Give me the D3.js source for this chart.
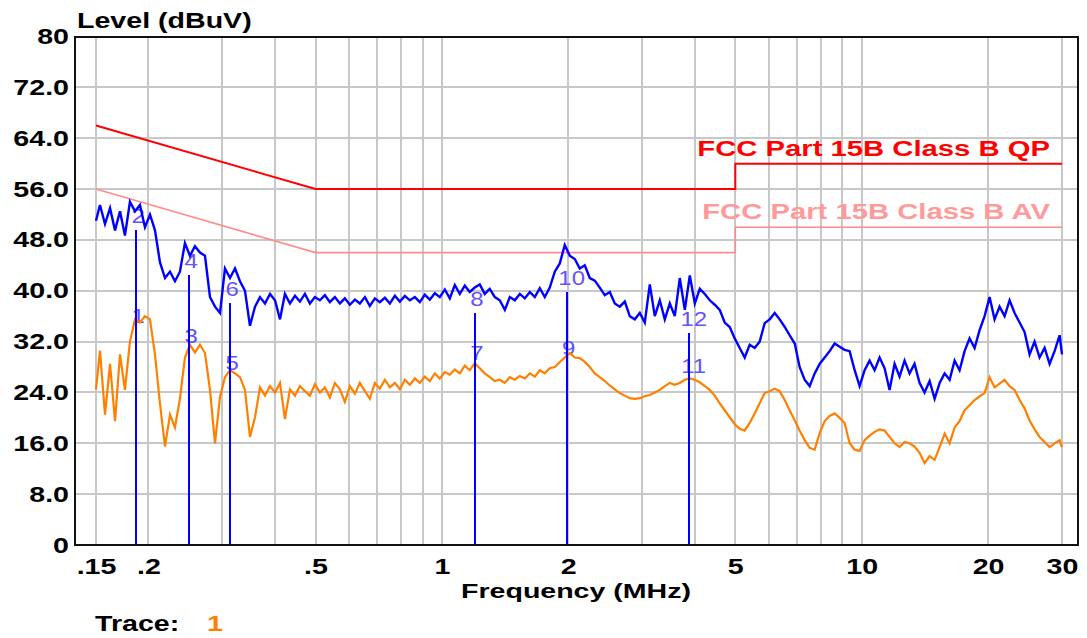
<!DOCTYPE html>
<html>
<head>
<meta charset="utf-8">
<script src="https://cdn.jsdelivr.net/npm/d3@7"></script>
<style>
  html, body { margin: 0; padding: 0; background: #fff; }
  svg { display: block; }
</style>
</head>
<body>
<svg id="chart" width="1087" height="638"></svg>
<script>
// ---------------- DATA ----------------
const yTickVals = [0, 8, 16, 24, 32, 40, 48, 56, 64, 72, 80];
const yTickLabels = ["0", "8.0", "16.0", "24.0", "32.0", "40.0", "48.0", "56.0", "64.0", "72.0", "80"];
const xTickVals = [0.15, 0.2, 0.5, 1, 2, 5, 10, 20, 30];
const xTickLabels = [".15", ".2", ".5", "1", "2", "5", "10", "20", "30"];
const xGridVals = [0.15, 0.2, 0.3, 0.4, 0.5, 0.6, 0.7, 0.8, 0.9, 1, 2, 3, 4, 5, 6, 7, 8, 9, 10, 20, 30];
const yGridVals = [8, 16, 24, 32, 40, 48, 56, 64, 72];

// FCC Part 15B Class B limits
const qpFreq = [0.15, 0.5, 5, 5, 30];
const qpLevel = [66, 56, 56, 60, 60];
const avFreq = [0.15, 0.5, 5, 5, 30];
const avLevel = [56, 46, 46, 50, 50];

// Measured traces (MHz, dBuV)
const freqs = [0.150,
  0.1533,0.1576,0.1620,0.1665,0.1711,0.1758,0.1807,0.1858,0.1909,0.1962,
  0.2017,0.2073,0.2130,0.2190,0.2251,0.2313,0.2377,0.2443,0.2511,0.2581,
  0.2653,0.2727,0.2803,0.2881,0.2961,0.3043,0.3128,0.3215,0.3304,0.3396,
  0.3490,0.3588,0.3687,0.3790,0.3895,0.4004,0.4115,0.4228,0.4346,0.4467,
  0.4590,0.4718,0.4849,0.4983,0.5122,0.5264,0.5410,0.5560,0.5715,0.5873,
  0.6036,0.6206,0.6376,0.6557,0.6735,0.6926,0.7114,0.7315,0.7518,0.7727,
  0.7941,0.8162,0.8388,0.8622,0.8861,0.9107,0.9359,0.9621,0.9886,1.0161,
  1.0443,1.0734,1.1031,1.1339,1.1652,1.1976,1.2308,1.2651,1.3001,1.3369,
  1.3734,1.4124,1.4515,1.4918,1.5333,1.5759,1.6196,1.6646,1.7108,1.7583,
  1.8071,1.8576,1.9092,1.9622,2.0166,2.0727,2.1303,2.1897,2.2506,2.3132,
  2.3774,2.4434,2.5115,2.5814,2.6531,2.7269,2.8028,2.8806,2.9609,3.0431,
  3.1277,3.2147,3.3041,3.3960,3.4905,3.5876,3.6873,3.7899,3.8952,4.0035,
  4.1148,4.2292,4.3460,4.4664,4.5904,4.7175,4.8488,4.9833,5.1218,5.2643,
  5.4099,5.5604,5.7146,5.8734,6.0363,6.2061,6.3761,6.5571,6.7350,6.9264,
  7.1141,7.3121,7.5178,7.727,7.9412,8.162,8.3883,8.622,8.8605,9.106,
  9.359,9.621,9.886,10.161,10.443,10.734,11.031,11.339,11.652,11.976,
  12.308,12.651,13.001,13.363,13.734,14.115,14.515,14.919,15.333,15.759,
  16.196,16.647,17.108,17.583,18.071,18.576,19.092,19.622,20.166,20.727,
  21.303,21.897,22.506,23.132,23.774,24.434,25.115,25.814,26.531,27.269,
  28.028,28.806,29.609,30.0];

const peak = [51,
  53.5,50.5,53,49.5,52.5,48.7,54,52.5,53.5,50,
  52,49.5,44.5,42,43,41.5,43,47.5,45.5,47,
  46,45.5,39,37.5,36.5,43.5,42,43.5,41.5,40,
  34.5,37.5,39,38,39.5,38.5,35.5,39.5,38,39.2,
  38.3,39.5,38,39,38.5,39.3,38.2,39,38,38.8,
  37.8,38.6,38,39,37.6,38.8,38.2,38.9,38,39.2,
  38.3,39.2,38.5,39,38.2,39.4,38.6,39.6,39,40.2,
  38.8,40.9,39.5,40.8,39.8,40.5,41,39.5,40.3,39,
  38.5,37,39,38.5,39.5,38.8,39.8,39,40.4,39,
  40.5,43,44.3,47.2,45.5,45,43.5,44,42,41.6,
  40.5,39.3,39.8,38,37.5,38.3,36,35.5,36.5,35,
  41,36,38.5,35.5,38,36,42,37,42.4,38,
  40.3,39.5,38.5,37.8,37,35,34.3,32.5,31,29.5,
  31.5,31,32,34.9,35.5,36.5,35.5,34.3,33,31.7,
  28,26,25,27,28.5,29.5,30.5,31.7,31.2,30.7,
  30.5,27.5,25,27.5,29,27.5,29.5,27.8,24.4,28.5,
  26.5,29,27,28.5,25.5,24,25.8,23,25.5,27,
  26,29,27.5,30.5,32.5,31,33.8,36,39,35.5,
  37.5,36,38.5,36.5,35,33.5,30,32,29.5,31,
  28.5,30.5,33,30];

const avg = [24.5,
  30.6,20.5,28.5,19.5,30,24.4,32,35.5,35,36,
  35.5,30,22.3,15.5,20.5,18.5,23,29.5,31.5,30.3,
  31.5,30.2,24.4,16,23.3,26.4,27.5,27,26.4,24.4,
  17,20.1,24.8,23.5,25,24,25.5,19.8,24.5,23.5,
  25,24.2,23.5,25.3,24,24.8,23.2,25.5,24.5,22.5,
  25,23.8,25.5,24.2,23,25.5,24.6,26,24.8,25.5,
  24.5,26,25.2,26.2,25.5,26.5,25.8,27,26.2,27.2,
  26.8,27.6,27,28.2,27.5,28.6,27.8,27,26.4,25.8,
  26,25.5,26.4,26,26.6,26.2,27,26.5,27.5,27,
  27.8,28,28.8,29.5,30.2,29.5,29.4,28.8,28,27,
  26.4,25.8,25.1,24.5,23.9,23.5,23.1,23,23.1,23.4,
  23.6,24,24.4,25,25.5,25.2,25.5,26,26.2,26,
  25.6,25,24.4,23.5,22.3,21.2,20.1,19,18.3,18,
  19.2,20.7,22.3,23.9,24.2,24.6,24.2,22.8,21.2,19.6,
  18,16.5,15.3,15,17.6,19.5,20.3,20.7,20,19.2,
  16,15,14.8,16.5,17.2,17.8,18.2,18,17,16,
  15.4,16.2,16,15.5,14.5,12.9,14,13.4,15.4,17.5,
  16,18.5,19.5,21.2,22,22.8,23.4,23.9,26.4,24.8,
  25.4,26,25,24.4,22.8,21.5,19.6,18.2,17,16.2,
  15.4,16,16.5,15.4];

// Markers
const markerNo = [1, 2, 3, 4, 5, 6, 7, 8, 9, 10, 11, 12];
const markerFreq = [0.187, 0.187, 0.250, 0.250, 0.313, 0.313, 1.198, 1.198, 1.983, 1.983, 3.873, 3.873];
const markerLevel = [33.8, 49.5, 30.7, 42.5, 26.4, 38.0, 28.0, 36.5, 28.8, 39.8, 25.9, 33.3];

const qpLabel = "FCC Part 15B Class B QP";
const avLabel = "FCC Part 15B Class B AV";
const yTitle = "Level (dBuV)";
const xTitle = "Frequency (MHz)";
const traceLabel = "Trace:";
const traceNo = "1";

// ---------------- LAYOUT ----------------
const FONT = "'Liberation Sans', Arial, Helvetica, sans-serif";
const SX = 1.3; // horizontal stretch of the original raster text
const X0 = 75, X1 = 1078, Y0 = 36.5, Y1 = 545;

const svg = d3.select("#chart");
const x = d3.scaleLog().domain([0.15, 30]).range([96, 1062]);
const y = d3.scaleLinear().domain([0, 80]).range([545, 36.5]);

function sText(g, px, py, str, opts) {
  const o = Object.assign({anchor: "start", size: 22, weight: "bold", fill: "#000", sx: SX}, opts || {});
  return g.append("text")
    .attr("transform", `translate(${px},${py}) scale(${o.sx},1)`)
    .attr("text-anchor", o.anchor)
    .attr("font-family", FONT)
    .attr("font-size", o.size)
    .attr("font-weight", o.weight)
    .attr("fill", o.fill)
    .text(str);
}

// Grid
const grid = svg.append("g").attr("stroke", "#c8c8c8").attr("stroke-width", 2).attr("shape-rendering", "crispEdges");
grid.selectAll("line.v").data(xGridVals).join("line").attr("class", "v")
  .attr("x1", d => Math.round(x(d))).attr("x2", d => Math.round(x(d)))
  .attr("y1", Y0).attr("y2", Y1);
grid.selectAll("line.h").data(yGridVals).join("line").attr("class", "h")
  .attr("x1", X0).attr("x2", X1)
  .attr("y1", d => Math.round(y(d))).attr("y2", d => Math.round(y(d)));

// Limit lines
const lineGen = d3.line().x(d => x(d[0])).y(d => y(d[1]));
svg.append("path").datum(qpFreq.map((f, i) => [f, qpLevel[i]]))
  .attr("d", lineGen).attr("fill", "none").attr("stroke", "#ff0000").attr("stroke-width", 2);
svg.append("path").datum(avFreq.map((f, i) => [f, avLevel[i]]))
  .attr("d", lineGen).attr("fill", "none").attr("stroke", "#ff8c8c").attr("stroke-width", 1.6);

sText(svg, 1050, 156, qpLabel, {anchor: "end", fill: "#ff0000", sx: 1.33});
sText(svg, 1050, 219, avLabel, {anchor: "end", fill: "#ff9a9a", sx: 1.33});

// Marker labels (under traces)
const mk = markerNo.map((n, i) => ({n, f: markerFreq[i], v: markerLevel[i]}));
const mkLabels = svg.append("g");
mk.forEach(m => {
  sText(mkLabels, x(m.f) + (m.n >= 10 ? 5 : 2), y(m.v) - 7, String(m.n),
    {anchor: "middle", size: 20, weight: "normal", fill: "#6452ff", sx: 1.2});
});

// Traces
const traceGen = d3.line().x(d => x(d[0])).y(d => y(d[1]));
svg.append("path").datum(freqs.map((f, i) => [f, avg[i]]))
  .attr("d", traceGen).attr("fill", "none").attr("stroke", "#ff8000").attr("stroke-width", 2.2)
  .attr("stroke-linejoin", "miter");
svg.append("path").datum(freqs.map((f, i) => [f, peak[i]]))
  .attr("d", traceGen).attr("fill", "none").attr("stroke", "#0000ff").attr("stroke-width", 2.4)
  .attr("stroke-linejoin", "miter");

// Marker lines
svg.append("g").selectAll("line").data(mk).join("line")
  .attr("x1", d => Math.round(x(d.f))).attr("x2", d => Math.round(x(d.f)))
  .attr("y1", y(0)).attr("y2", d => y(d.v))
  .attr("stroke", "#0000ff").attr("stroke-width", 2).attr("shape-rendering", "crispEdges");

// Frame
svg.append("rect").attr("x", X0).attr("y", Y0).attr("width", X1 - X0).attr("height", Y1 - Y0)
  .attr("fill", "none").attr("stroke", "#111").attr("stroke-width", 2).attr("shape-rendering", "crispEdges");

// Axes
const xAxis = d3.axisBottom(x).tickValues(xTickVals)
  .tickFormat(d => xTickLabels[xTickVals.indexOf(d)]).tickSize(0);
const gx = svg.append("g").attr("transform", `translate(0,${Y1})`).call(xAxis);
gx.select(".domain").remove();
gx.attr("font-family", FONT).attr("font-size", 22).attr("font-weight", "bold");
gx.selectAll("text").attr("y", 29).attr("dy", null).attr("fill", "#000")
  .attr("transform", `scale(${SX},1)`);

const yAxis = d3.axisLeft(y).tickValues(yTickVals)
  .tickFormat(d => yTickLabels[yTickVals.indexOf(d)]).tickSize(0);
const gy = svg.append("g").attr("transform", `translate(${X0},0)`).call(yAxis);
gy.select(".domain").remove();
gy.attr("font-family", FONT).attr("font-size", 22).attr("font-weight", "bold");
gy.selectAll("text").attr("x", -6 / SX).attr("y", 7).attr("dy", null).attr("fill", "#000")
  .attr("text-anchor", "end").attr("transform", `scale(${SX},1)`);

// Titles
sText(svg, 576, 598, xTitle, {anchor: "middle", size: 21, sx: 1.36});
sText(svg, 77, 28, yTitle);
sText(svg, 95, 631, traceLabel);
sText(svg, 207, 631, traceNo, {fill: "#ff8000"});
</script>
</body>
</html>
